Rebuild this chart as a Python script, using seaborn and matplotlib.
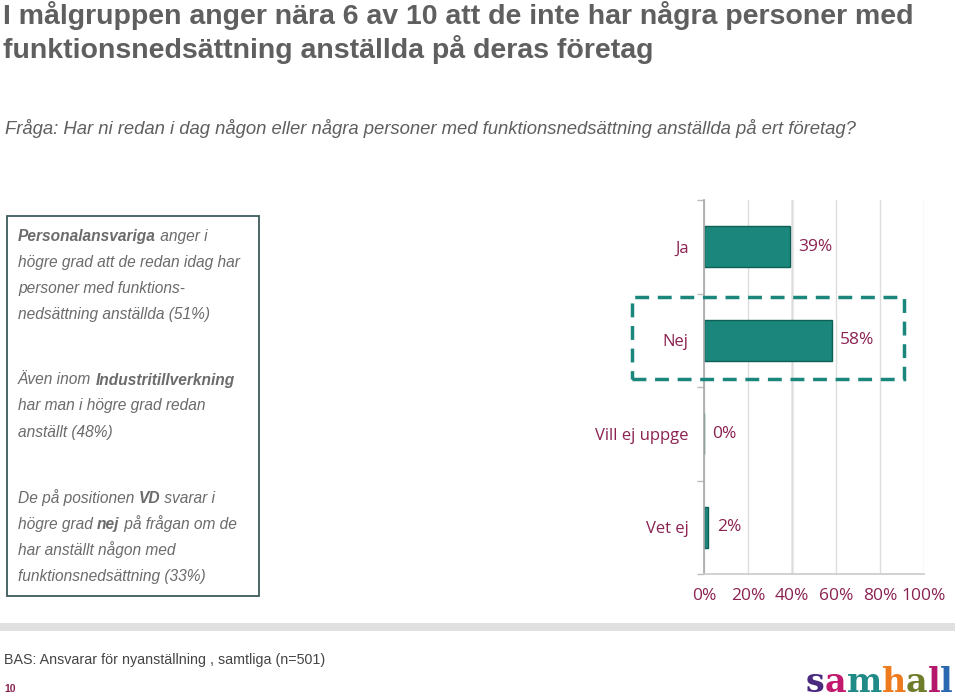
import matplotlib
matplotlib.use('Agg')
import matplotlib.pyplot as plt
import matplotlib.patches as patches
import seaborn as sns
import pandas as pd

# %%
categories = ['Ja', 'Nej', 'Vill ej uppge', 'Vet ej']
values = [39, 58, 0, 2]
xticks = [0, 20, 40, 60, 80, 100]
xtick_labels = ['0%', '20%', '40%', '60%', '80%', '100%']

title_lines = ['I målgruppen anger nära 6 av 10 att de inte har några personer med',
               'funktionsnedsättning anställda på deras företag']
question = ('Fråga: Har ni redan i dag någon eller några personer med '
            'funktionsnedsättning anställda på ert företag?')
base_text = 'BAS: Ansvarar för nyanställning , samtliga (n=501)'

# each line is a list of (text, bold) pieces
box_lines = [
    [('Personalansvariga', True), (' anger i', False)],
    [('högre grad att de redan idag har', False)],
    [('personer med funktions-', False)],
    [('nedsättning anställda (51%)', False)],
    None,
    [('Även inom ', False), ('Industritillverkning', True)],
    [('har man i högre grad redan', False)],
    [('anställt (48%)', False)],
    None,
    [('De på positionen ', False), ('VD', True), (' svarar i', False)],
    [('högre grad ', False), ('nej', True), (' på frågan om de', False)],
    [('har anställt någon med', False)],
    [('funktionsnedsättning (33%)', False)],
]

logo_letters = list('samhall')
logo_colors = ['#4a2a7e', '#c2186d', '#1f8a86', '#ee7a1e', '#6f7d2a', '#b5176b', '#2a69b0']

teal = '#1b877c'
purple = '#8b2252'
gray_txt = '#5f5f5f'

# %%
sns.set_theme(style='white')
plt.rcParams['font.family'] = ['Liberation Sans', 'DejaVu Sans']

W, H = 960, 698
fig = plt.figure(figsize=(W / 100, H / 100), dpi=100)


def fx(px): return px / W


def fy(py): return 1 - py / H


# title + question
fig.text(fx(3), fy(15), title_lines[0], fontsize=20.5, fontweight='bold',
         color=gray_txt, va='center', ha='left')
fig.text(fx(3), fy(50), title_lines[1], fontsize=20.5, fontweight='bold',
         color=gray_txt, va='center', ha='left')
fig.text(fx(5), fy(128), question, fontsize=13.3, style='italic',
         color=gray_txt, va='center', ha='left')

# %%
df = pd.DataFrame({'svar': categories, 'andel': values})
ax = fig.add_axes([fx(704), fy(574), fx(924) - fx(704), (574 - 200) / H])
sns.barplot(data=df, x='andel', y='svar', orient='h', ax=ax, color=teal,
            width=0.44, saturation=1, edgecolor='#0e5f56', linewidth=1)
ax.set_xlim(0, 100)
ax.set_ylim(3.5, -0.5)
ax.set_xticks(xticks)
ax.set_xticklabels(xtick_labels, fontsize=12.5, color=purple,
                   family=['Open Sans', 'DejaVu Sans'])
ax.tick_params(axis='x', length=6, color='#bbbbbb', pad=4)
ax.tick_params(axis='y', which='major', length=0, pad=11)
ax.set_yticks([-0.5, 0.5, 1.5, 2.5, 3.5], minor=True)
ax.tick_params(axis='y', which='minor', length=5, color='#bbbbbb', left=True)
for lab in ax.get_yticklabels():
    lab.set_color(purple)
    lab.set_fontsize(12)
    lab.set_family(['Open Sans', 'DejaVu Sans'])
ax.set_xlabel('')
ax.set_ylabel('')
ax.grid(axis='x', color='#dddddd', linewidth=1)
ax.axvline(40, color='#999999', linewidth=1, zorder=0.5)
ax.set_axisbelow(True)
for s in ['top', 'right']:
    ax.spines[s].set_visible(False)
ax.spines['left'].set_color('#aaaaaa')
ax.spines['bottom'].set_color('#cccccc')
ax.bar_label(ax.containers[0], labels=[f'{v}%' for v in values], padding=6,
             fontsize=12.5, color=purple, family=['Open Sans', 'DejaVu Sans'])

# dashed box around "Nej"
fig.patches.append(patches.Rectangle((fx(632), fy(379)), fx(904) - fx(632),
                                     (379 - 297) / H, transform=fig.transFigure,
                                     fill=False, edgecolor=teal, linewidth=2.5,
                                     linestyle=(0, (4, 2.5))))

# %%
# text box on the left
fig.patches.append(patches.Rectangle((fx(7), fy(596)), fx(259) - fx(7),
                                     (596 - 216) / H, transform=fig.transFigure,
                                     fill=False, edgecolor='#3d5a5a', linewidth=1.3))
y = 236
for line in box_lines:
    if line is None:
        y += 40
        continue
    prev = None
    for txt, bold in line:
        kw = dict(fontsize=11.2, style='italic', color='#6b6b6b',
                  fontweight='bold' if bold else 'normal',
                  family=['Liberation Sans', 'DejaVu Sans'])
        if prev is None:
            prev = fig.text(fx(18), fy(y), txt, va='center', ha='left', **kw)
        else:
            prev = fig.add_artist(matplotlib.text.Annotation(
                txt, xy=(1, 0), xycoords=prev, va='bottom', ha='left', **kw))
    y += 26

# %%
# footer
fig.patches.append(patches.Rectangle((0, fy(631)), fx(955), 8 / H,
                                     transform=fig.transFigure,
                                     color='#e0e0e0', linewidth=0))
fig.text(fx(4), fy(660), base_text, fontsize=10.3, color='#444444',
         va='center', ha='left')
fig.text(fx(4), fy(689), '10', fontsize=7.5, fontweight='bold', color=purple,
         va='center', ha='left')

prev = None
for ch, c in zip(logo_letters, logo_colors):
    kw = dict(fontsize=24, fontweight='bold', color=c,
              family=['DejaVu Serif'])
    if prev is None:
        prev = fig.text(fx(806), fy(683), ch, va='center', ha='left', **kw)
    else:
        prev = fig.add_artist(matplotlib.text.Annotation(
            ch, xy=(1, 0), xycoords=prev, va='bottom', ha='left', **kw))

fig.savefig('out.png', dpi=100)
